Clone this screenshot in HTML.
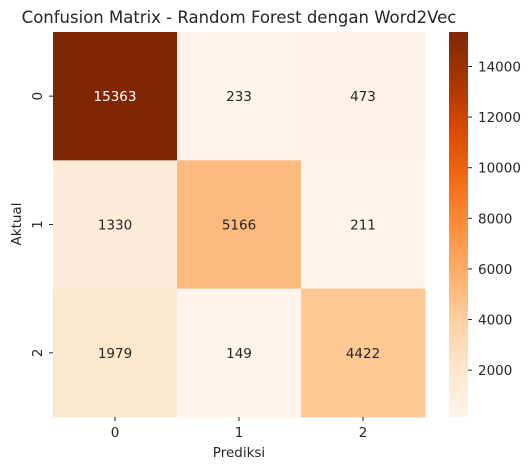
<!DOCTYPE html>
<html><head><meta charset="utf-8"><style>
body{margin:0;background:#fff}
svg text{font-family:"DejaVu Sans","Liberation Sans",sans-serif;fill:#262626}
</style></head><body>
<svg id="chart" width="531" height="470">
<text x="239" y="23" font-size="16.5" text-anchor="middle" fill="#000">Confusion Matrix - Random Forest dengan Word2Vec</text>
<g id="cells"></g>
<g id="axes"></g>
<defs><linearGradient id="cg" x1="0" y1="1" x2="0" y2="0"></linearGradient></defs>
<rect x="449" y="32" width="19" height="385" fill="url(#cg)"/>
<g id="cbticks"></g>
<text x="239" y="457" font-size="13.5" text-anchor="middle">Prediksi</text>
<text transform="translate(21,224) rotate(-90)" font-size="13.5" text-anchor="middle">Aktual</text>
</svg>
<script>
const labels = ["0","1","2"];
const row0 = [15363, 233, 473];
const row1 = [1330, 5166, 211];
const row2 = [1979, 149, 4422];
const cbTicks = [2000,4000,6000,8000,10000,12000,14000];
const stops = ["#fff5eb","#fee6ce","#fdd0a2","#fdae6b","#fd8d3c","#f16913","#d94801","#a63603","#7f2704"];
const rows=[row0,row1,row2];
const NS="http://www.w3.org/2000/svg";
const all=rows.flat(); const vmin=Math.min(...all), vmax=Math.max(...all);
const X0=53,Y0=32,W=372,H=385,cw=W/labels.length,ch=H/labels.length;
function hex(h){return [1,3,5].map(i=>parseInt(h.substr(i,2),16));}
function color(v){let t=(v-vmin)/(vmax-vmin);t=Math.max(0,Math.min(1,t));const p=t*(stops.length-1);const i=Math.min(Math.floor(p),stops.length-2);const f=p-i;const a=hex(stops[i]),b=hex(stops[i+1]);return `rgb(${a.map((c,k)=>Math.round(c+(b[k]-c)*f)).join(",")})`;}
function lum(v){let t=(v-vmin)/(vmax-vmin);return t>0.5;}
function mk(tag,at,par){const e=document.createElementNS(NS,tag);for(const k in at)e.setAttribute(k,at[k]);par.appendChild(e);return e;}
const cells=document.getElementById('cells'),axes=document.getElementById('axes');
rows.forEach((r,i)=>r.forEach((v,j)=>{
 const rc=mk('rect',{x:X0+j*cw,y:Y0+i*ch,width:cw+0.5,height:ch+0.5,fill:color(v)},cells);
 
 
 const t=mk('text',{x:X0+(j+0.5)*cw,y:Y0+(i+0.5)*ch+5,'font-size':13.5,'text-anchor':'middle'},cells);
 t.style.fill=lum(v)?'#fff':'#262626';
 t.textContent=v;
 
 
}));
labels.forEach((l,k)=>{
 const x=X0+(k+0.5)*cw;
 const tk=mk('line',{x1:x,x2:x,y1:417,y2:421,stroke:'#262626'},axes);
 
 
 const tx=mk('text',{x:x,y:437,'font-size':13.5,'text-anchor':'middle'},axes);tx.textContent=l;
 
 
 const y=Y0+(k+0.5)*ch;
 const ty=mk('line',{x1:49,x2:53,y1:y,y2:y,stroke:'#262626'},axes);
 
 
 const yl=mk('text',{transform:`translate(42,${y}) rotate(-90)`,'font-size':13.5,'text-anchor':'middle'},axes);yl.textContent=l;
 
 
});
const g=document.getElementById('cg');
stops.forEach((s,i)=>mk('stop',{offset:(i/(stops.length-1)),'stop-color':s},g));
const cbt=document.getElementById('cbticks');
cbTicks.forEach(v=>{
 const y=417-(v-vmin)/(vmax-vmin)*385;
 const l=mk('line',{x1:468,x2:472,y1:y,y2:y,stroke:'#262626'},cbt);
 
 
 const t=mk('text',{x:478,y:y+5,'font-size':13.5},cbt);t.textContent=v;
 
 
});
</script>
</body></html>
